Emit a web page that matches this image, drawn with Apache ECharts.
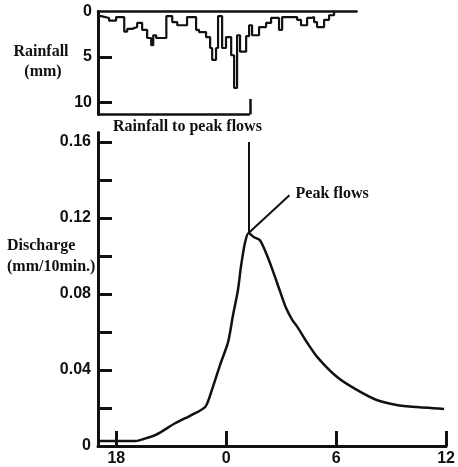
<!DOCTYPE html>
<html>
<head>
<meta charset="utf-8">
<script src="https://cdn.jsdelivr.net/npm/echarts@6/dist/echarts.min.js"></script>
<style>
html,body{margin:0;padding:0;background:#fff;}
#c{width:458px;height:467px;}
</style>
</head>
<body>
<div id="c"></div>
<script>
// Rainfall hyetograph (hours relative to midnight, mm) — step starts
const rainT = [-7, -6.83, -6.40, -6.02, -5.58, -5.42, -5.15, -4.88, -4.61, -4.34, -4.12, -4.01, -3.85, -3.30, -2.98, -2.71, -2.18, -1.69, -1.53, -1.15, -0.93, -0.82, -0.61, -0.50, -0.28, -0.07, 0.21, 0.37, 0.53, 0.69, 1.02, 1.18, 1.34, 1.72, 2.10, 2.37, 2.80, 2.97, 3.78, 3.99, 4.32, 4.53, 4.70, 4.86, 5.24, 5.51, 5.78];
const rainMM = [0.5, 0.7, 1.0, 0.6, 2.2, 1.9, 1.7, 1.25, 2.0, 2.9, 3.7, 2.6, 2.9, 0.5, 1.15, 1.5, 0.6, 2.0, 2.25, 2.8, 4.0, 5.3, 4.0, 0.5, 4.0, 2.8, 4.8, 8.4, 2.6, 4.4, 2.7, 1.5, 2.6, 1.7, 1.25, 0.7, 2.0, 0.6, 0.9, 1.5, 0.7, 0.6, 1.15, 1.7, 0.9, 0.4, 0];

// Discharge hydrograph (hours, mm/10min)
const qT = [-7, -4.94, -4.50, -3.85, -2.77, -1.90, -1.15, -0.82, -0.34, 0.10, 0.37, 0.64, 0.80, 1.02, 1.22, 1.50, 1.83, 2.15, 2.53, 2.91, 3.24, 3.61, 3.89, 4.43, 4.97, 6.05, 7.13, 8.21, 9.30, 10.38, 11.89];
const qV = [0.0026, 0.0026, 0.0037, 0.0058, 0.0121, 0.0163, 0.0205, 0.0284, 0.0426, 0.0547, 0.0689, 0.0821, 0.0942, 0.1068, 0.1121, 0.1100, 0.1084, 0.1021, 0.0926, 0.0821, 0.0732, 0.0663, 0.0626, 0.0542, 0.0468, 0.0363, 0.0295, 0.0242, 0.0216, 0.0205, 0.0195];

// Tick values / labels
const xTickValues = [-6, 0, 6, 12];
const xTickLabels = ['18', '0', '6', '12'];
const qTickValues = [0, 0.02, 0.04, 0.06, 0.08, 0.10, 0.12, 0.14, 0.16];
const qLabelValues = [0, 0.04, 0.08, 0.12, 0.16];
const rainTickValues = [5, 10];
const rainLabelValues = [0, 5, 10];

// annotation anchors (data coords)
const peakTextAt = [3.78, 0.1325];
const peakLeaderEnd = [3.45, 0.132];
const bracketLevel = 11.3;
const bracketTickTop = 9.6;

const INK = '#111';
const SANS = '"Liberation Sans", Arial, sans-serif';
const SERIF = '"Liberation Serif", "Times New Roman", serif';

let pi = 0;
qV.forEach((v, i) => { if (v > qV[pi]) pi = i; });
const tPeak = qT[pi], qPeak = qV[pi];

const chart = echarts.init(document.getElementById('c'), null, {renderer: 'canvas'});

const labelStyle = {color: INK, fontFamily: SANS, fontSize: 16, fontWeight: 'bold'};
const serifFont = 'bold 16px ' + SERIF;

chart.setOption({
  animation: false,
  backgroundColor: '#fff',
  grid: [
    {left: 98, top: 11.6, width: 258.6, height: 102.8},
    {left: 98, top: 132.5, width: 351, height: 313.5}
  ],
  xAxis: [
    {gridIndex: 0, type: 'value', min: -7, max: 7, position: 'top',
     axisLine: {show: true, onZero: false, lineStyle: {color: INK, width: 2.5}},
     axisTick: {show: false}, axisLabel: {show: false}, splitLine: {show: false}},
    {gridIndex: 1, type: 'value', min: -7, max: 12, position: 'bottom',
     axisLine: {show: true, onZero: false, lineStyle: {color: INK, width: 3}},
     axisTick: {show: true, inside: true, length: 15, customValues: xTickValues, lineStyle: {color: INK, width: 3}},
     axisLabel: Object.assign({customValues: xTickValues, margin: 5,
       formatter: v => xTickLabels[xTickValues.indexOf(v)]}, labelStyle),
     splitLine: {show: false}}
  ],
  yAxis: [
    {gridIndex: 0, type: 'value', inverse: true, min: 0, max: 11.3,
     axisLine: {show: true, onZero: false, lineStyle: {color: INK, width: 3}},
     axisTick: {show: true, inside: true, length: 14, customValues: rainTickValues, lineStyle: {color: INK, width: 3}},
     axisLabel: Object.assign({customValues: rainLabelValues, margin: 6}, labelStyle),
     splitLine: {show: false}},
    {gridIndex: 1, type: 'value', min: 0, max: 0.165,
     axisLine: {show: true, onZero: false, lineStyle: {color: INK, width: 3}},
     axisTick: {show: true, inside: true, length: 14, customValues: qTickValues, lineStyle: {color: INK, width: 3}},
     axisLabel: Object.assign({customValues: qLabelValues, margin: 7,
       formatter: v => v === 0 ? '0' : v.toFixed(2)}, labelStyle),
     splitLine: {show: false}}
  ],
  series: [
    {type: 'line', xAxisIndex: 0, yAxisIndex: 0, step: 'end', symbol: 'none',
     data: rainT.map((t, i) => [t, rainMM[i]]),
     lineStyle: {color: INK, width: 2.2},
     markLine: {silent: true, symbol: ['none', 'none'], label: {show: false},
       lineStyle: {color: INK, width: 2.5, type: 'solid'},
       data: [
         [{coord: [-7, bracketLevel]}, {coord: [tPeak, bracketLevel]}],
         [{coord: [tPeak, bracketTickTop]}, {coord: [tPeak, bracketLevel]}]
       ]}},
    {type: 'line', xAxisIndex: 1, yAxisIndex: 1, symbol: 'none', smooth: 0.25,
     data: qT.map((t, i) => [t, qV[i]]),
     lineStyle: {color: INK, width: 2.5},
     markLine: {silent: true, symbol: ['none', 'none'], label: {show: false},
       lineStyle: {color: INK, width: 2, type: 'solid'},
       data: [
         [{coord: [tPeak, qPeak]}, {coord: [tPeak, 0.16]}],
         [{coord: [tPeak, qPeak]}, {coord: peakLeaderEnd}]
       ]}}
  ],
  graphic: [
    {type: 'text', x: 41, y: 52, style: {text: 'Rainfall', fill: INK, font: serifFont, textAlign: 'center', textVerticalAlign: 'middle'}},
    {type: 'text', x: 43, y: 72, style: {text: '(mm)', fill: INK, font: serifFont, textAlign: 'center', textVerticalAlign: 'middle'}},
    {type: 'text', x: 7, y: 246, style: {text: 'Discharge', fill: INK, font: serifFont, textAlign: 'left', textVerticalAlign: 'middle'}},
    {type: 'text', x: 7, y: 267, style: {text: '(mm/10min.)', fill: INK, font: serifFont, textAlign: 'left', textVerticalAlign: 'middle'}},
    {type: 'text', x: 113, y: 127, style: {text: 'Rainfall to peak flows', fill: INK, font: serifFont, textAlign: 'left', textVerticalAlign: 'middle'}}
  ]
});

const pt = chart.convertToPixel({xAxisIndex: 1, yAxisIndex: 1}, peakTextAt);
chart.setOption({
  graphic: [
    {type: 'text', id: 'peakText', x: pt[0], y: pt[1],
     style: {text: 'Peak flows', fill: INK, font: serifFont, textAlign: 'left', textVerticalAlign: 'middle'}}
  ]
});
</script>
</body>
</html>
